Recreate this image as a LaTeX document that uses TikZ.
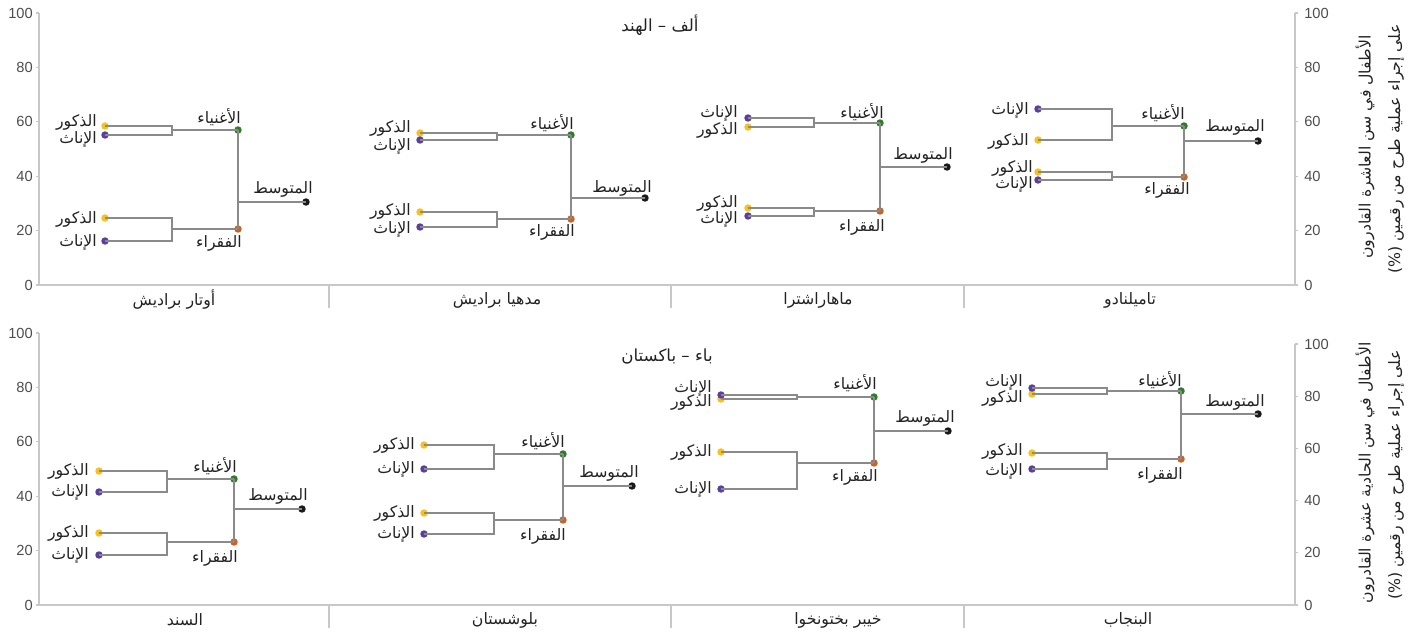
\documentclass[tikz,border=0pt]{standalone}
\usepackage{fontspec}
\setmainfont{Liberation Sans}
\newfontfamily\arabicfont[Script=Arabic]{DejaVu Sans}
\TeXXeTstate=1
\newcommand\artxt[1]{{\arabicfont\beginR #1\endR}}

\definecolor{maleyellow}{HTML}{F8C21A}
\definecolor{femalepurple}{HTML}{5B3F9C}
\definecolor{richgreen}{HTML}{2F7D2B}
\definecolor{poororange}{HTML}{CF6020}
\definecolor{avgblack}{HTML}{1A1A1A}
\definecolor{linkgray}{HTML}{8A8A8A}
\definecolor{axisgray}{HTML}{C8C8C8}
\definecolor{tickgray}{HTML}{4D4D4D}
\definecolor{textblack}{HTML}{222222}

\tikzset{
  dot/.style={circle, inner sep=0pt, minimum size=5.6pt},
  male/.style={dot, fill=maleyellow},
  female/.style={dot, fill=femalepurple},
  rich/.style={dot, fill=richgreen},
  poor/.style={dot, fill=poororange},
  avg/.style={dot, fill=avgblack},
  link/.style={draw=linkgray, line width=1.4pt},
  axisline/.style={draw=axisgray, line width=0.8pt},
  lbl/.style={font=\fontsize{11.8}{13}\selectfont, text=textblack, inner sep=0pt},
  ticknum/.style={font=\fontsize{11}{12}\selectfont, text=tickgray, inner sep=0pt},
}

\begin{document}
\begin{tikzpicture}[x=0.75pt, y=-0.75pt]
  \useasboundingbox (0,0) rectangle (1409,634);

  % axes, top panel
  \draw[axisline] (39,13) -- (39,285) -- (1295,285) -- (1295,13);
  \draw[axisline] (329,285) -- (329,308) (671,285) -- (671,308) (964,285) -- (964,308);
  \foreach \v in {0,20,...,100} {
    \draw[axisline] (36,{285-2.72*\v}) -- (39,{285-2.72*\v});
    \draw[axisline] (1295,{285-2.72*\v}) -- (1298,{285-2.72*\v});
    \node[ticknum, anchor=east] (la\v) at (33,{285-2.72*\v}) {\v};
    \node[ticknum, anchor=west] (ra\v) at (1304,{285-2.72*\v}) {\v};
  }
  % axes, bottom panel
  \draw[axisline] (39,333) -- (39,605) -- (1295,605) -- (1295,344);
  \draw[axisline] (329,605) -- (329,628) (671,605) -- (671,628) (964,605) -- (964,628);
  \foreach \v in {0,20,...,100} {
    \draw[axisline] (36,{605-2.72*\v}) -- (39,{605-2.72*\v});
    \draw[axisline] (1295,{605-2.61*\v}) -- (1298,{605-2.61*\v});
    \node[ticknum, anchor=east] (lb\v) at (33,{605-2.72*\v}) {\v};
    \node[ticknum, anchor=west] (rb\v) at (1304,{605-2.61*\v}) {\v};
  }

  % titles and axis texts
  \draw
    (660,25) node[lbl, font=\fontsize{12.5}{14}\selectfont] (titleA){\artxt{ألف – الهند}}
    (667,357) node[lbl, font=\fontsize{12.5}{14}\selectfont] (titleB){\artxt{باء – باكستان}}
    (174,300) node[lbl] (catUP){\artxt{أوتار براديش}}
    (497,300) node[lbl] (catMP){\artxt{مدهيا براديش}}
    (818,300) node[lbl] (catMH){\artxt{ماهاراشترا}}
    (1130,300) node[lbl] (catTN){\artxt{تاميلنادو}}
    (185,620) node[lbl] (catSD){\artxt{السند}}
    (505,620) node[lbl] (catBL){\artxt{بلوشستان}}
    (838,620) node[lbl] (catKP){\artxt{خيبر بختونخوا}}
    (1128,620) node[lbl] (catPB){\artxt{البنجاب}}
    (1365,147) node[lbl, rotate=90] (ytitleA1){\artxt{الأطفال في سن العاشرة القادرون}}
    (1396,149) node[lbl, rotate=90] (ytitleA2){\artxt{على إجراء عملية طرح من رقمين (\%)}}
    (1365,473) node[lbl, rotate=90] (ytitleB1){\artxt{الأطفال في سن الحادية عشرة القادرون}}
    (1396,475) node[lbl, rotate=90] (ytitleB2){\artxt{على إجراء عملية طرح من رقمين (\%)}};

  % Uttar Pradesh
  \draw
    (105,126) node[male] (up-m1){}
    (105,135) node[female] (up-f1){}
    (105,218) node[male] (up-m2){}
    (105,241) node[female] (up-f2){}
    (238,130) node[rich] (up-rich){}
    (238,229) node[poor] (up-poor){}
    (306,202) node[avg] (up-avg){}
    (97,122) node[lbl, anchor=east] (up-m1l){\artxt{الذكور}}
    (97,139) node[lbl, anchor=east] (up-f1l){\artxt{الإناث}}
    (97,219) node[lbl, anchor=east] (up-m2l){\artxt{الذكور}}
    (97,242) node[lbl, anchor=east] (up-f2l){\artxt{الإناث}}
    (219,117) node[lbl] (up-richl){\artxt{الأغنياء}}
    (219,243) node[lbl] (up-poorl){\artxt{الفقراء}}
    (283,189) node[lbl] (up-avgl){\artxt{المتوسط}};
  \coordinate (up-j1) at (172,130);
  \coordinate (up-j2) at (172,229);

  % Madhya Pradesh
  \draw
    (420,133) node[male] (mp-m1){}
    (420,140) node[female] (mp-f1){}
    (420,212) node[male] (mp-m2){}
    (420,227) node[female] (mp-f2){}
    (571,135) node[rich] (mp-rich){}
    (571,219) node[poor] (mp-poor){}
    (645,198) node[avg] (mp-avg){}
    (411,128) node[lbl, anchor=east] (mp-m1l){\artxt{الذكور}}
    (411,146) node[lbl, anchor=east] (mp-f1l){\artxt{الإناث}}
    (411,211) node[lbl, anchor=east] (mp-m2l){\artxt{الذكور}}
    (411,229) node[lbl, anchor=east] (mp-f2l){\artxt{الإناث}}
    (552,123) node[lbl] (mp-richl){\artxt{الأغنياء}}
    (552,232) node[lbl] (mp-poorl){\artxt{الفقراء}}
    (622,188) node[lbl] (mp-avgl){\artxt{المتوسط}};
  \coordinate (mp-j1) at (497,135);
  \coordinate (mp-j2) at (497,219);

  % Maharashtra
  \draw
    (748,127) node[male] (mh-m1){}
    (748,118) node[female] (mh-f1){}
    (748,208) node[male] (mh-m2){}
    (748,216) node[female] (mh-f2){}
    (880,123) node[rich] (mh-rich){}
    (880,211) node[poor] (mh-poor){}
    (947,167) node[avg] (mh-avg){}
    (738,130) node[lbl, anchor=east] (mh-m1l){\artxt{الذكور}}
    (738,113) node[lbl, anchor=east] (mh-f1l){\artxt{الإناث}}
    (738,203) node[lbl, anchor=east] (mh-m2l){\artxt{الذكور}}
    (738,219) node[lbl, anchor=east] (mh-f2l){\artxt{الإناث}}
    (862,112) node[lbl] (mh-richl){\artxt{الأغنياء}}
    (862,227) node[lbl] (mh-poorl){\artxt{الفقراء}}
    (923,155) node[lbl] (mh-avgl){\artxt{المتوسط}};
  \coordinate (mh-j1) at (814,123);
  \coordinate (mh-j2) at (814,211);

  % Tamil Nadu
  \draw
    (1038,140) node[male] (tn-m1){}
    (1038,109) node[female] (tn-f1){}
    (1038,172) node[male] (tn-m2){}
    (1038,180) node[female] (tn-f2){}
    (1184,126) node[rich] (tn-rich){}
    (1184,177) node[poor] (tn-poor){}
    (1258,141) node[avg] (tn-avg){}
    (1029,141) node[lbl, anchor=east] (tn-m1l){\artxt{الذكور}}
    (1029,110) node[lbl, anchor=east] (tn-f1l){\artxt{الإناث}}
    (1033,168) node[lbl, anchor=east] (tn-m2l){\artxt{الذكور}}
    (1033,184) node[lbl, anchor=east] (tn-f2l){\artxt{الإناث}}
    (1163,113) node[lbl] (tn-richl){\artxt{الأغنياء}}
    (1167,190) node[lbl] (tn-poorl){\artxt{الفقراء}}
    (1235,127) node[lbl] (tn-avgl){\artxt{المتوسط}};
  \coordinate (tn-j1) at (1112,126);
  \coordinate (tn-j2) at (1112,177);

  % Sindh
  \draw
    (99,471) node[male] (sd-m1){}
    (99,492) node[female] (sd-f1){}
    (99,533) node[male] (sd-m2){}
    (99,555) node[female] (sd-f2){}
    (234,479) node[rich] (sd-rich){}
    (234,542) node[poor] (sd-poor){}
    (302,509) node[avg] (sd-avg){}
    (89,471) node[lbl, anchor=east] (sd-m1l){\artxt{الذكور}}
    (89,492) node[lbl, anchor=east] (sd-f1l){\artxt{الإناث}}
    (89,533) node[lbl, anchor=east] (sd-m2l){\artxt{الذكور}}
    (89,555) node[lbl, anchor=east] (sd-f2l){\artxt{الإناث}}
    (215,466) node[lbl] (sd-richl){\artxt{الأغنياء}}
    (215,558) node[lbl] (sd-poorl){\artxt{الفقراء}}
    (278,496) node[lbl] (sd-avgl){\artxt{المتوسط}};
  \coordinate (sd-j1) at (167,479);
  \coordinate (sd-j2) at (167,542);

  % Balochistan
  \draw
    (424,445) node[male] (bl-m1){}
    (424,469) node[female] (bl-f1){}
    (424,513) node[male] (bl-m2){}
    (424,534) node[female] (bl-f2){}
    (563,454) node[rich] (bl-rich){}
    (563,520) node[poor] (bl-poor){}
    (632,486) node[avg] (bl-avg){}
    (415,445) node[lbl, anchor=east] (bl-m1l){\artxt{الذكور}}
    (415,469) node[lbl, anchor=east] (bl-f1l){\artxt{الإناث}}
    (415,513) node[lbl, anchor=east] (bl-m2l){\artxt{الذكور}}
    (415,534) node[lbl, anchor=east] (bl-f2l){\artxt{الإناث}}
    (543,441) node[lbl] (bl-richl){\artxt{الأغنياء}}
    (543,536) node[lbl] (bl-poorl){\artxt{الفقراء}}
    (609,473) node[lbl] (bl-avgl){\artxt{المتوسط}};
  \coordinate (bl-j1) at (494,454);
  \coordinate (bl-j2) at (494,520);

  % Khyber Pakhtunkhwa
  \draw
    (721,399) node[male] (kp-m1){}
    (721,395) node[female] (kp-f1){}
    (721,452) node[male] (kp-m2){}
    (721,489) node[female] (kp-f2){}
    (874,397) node[rich] (kp-rich){}
    (874,463) node[poor] (kp-poor){}
    (948,431) node[avg] (kp-avg){}
    (712,402) node[lbl, anchor=east] (kp-m1l){\artxt{الذكور}}
    (712,388) node[lbl, anchor=east] (kp-f1l){\artxt{الإناث}}
    (712,452) node[lbl, anchor=east] (kp-m2l){\artxt{الذكور}}
    (712,489) node[lbl, anchor=east] (kp-f2l){\artxt{الإناث}}
    (855,383) node[lbl] (kp-richl){\artxt{الأغنياء}}
    (855,477) node[lbl] (kp-poorl){\artxt{الفقراء}}
    (925,418) node[lbl] (kp-avgl){\artxt{المتوسط}};
  \coordinate (kp-j1) at (797,397);
  \coordinate (kp-j2) at (797,463);

  % Punjab
  \draw
    (1032,394) node[male] (pb-m1){}
    (1032,388) node[female] (pb-f1){}
    (1032,453) node[male] (pb-m2){}
    (1032,469) node[female] (pb-f2){}
    (1181,391) node[rich] (pb-rich){}
    (1181,459) node[poor] (pb-poor){}
    (1258,414) node[avg] (pb-avg){}
    (1023,398) node[lbl, anchor=east] (pb-m1l){\artxt{الذكور}}
    (1023,382) node[lbl, anchor=east] (pb-f1l){\artxt{الإناث}}
    (1023,451) node[lbl, anchor=east] (pb-m2l){\artxt{الذكور}}
    (1023,471) node[lbl, anchor=east] (pb-f2l){\artxt{الإناث}}
    (1160,380) node[lbl] (pb-richl){\artxt{الأغنياء}}
    (1160,475) node[lbl] (pb-poorl){\artxt{الفقراء}}
    (1235,402) node[lbl] (pb-avgl){\artxt{المتوسط}};
  \coordinate (pb-j1) at (1107,391);
  \coordinate (pb-j2) at (1107,459);

  \begin{scope}[on background layer/.try]
    \foreach \p in {up,mp,mh,tn,sd,bl,kp,pb} {
      \draw[link] (\p-m1.center) -| (\p-j1) |- (\p-f1.center);
      \draw[link] (\p-m2.center) -| (\p-j2) |- (\p-f2.center);
      \draw[link] (\p-j1) -- (\p-rich.center);
      \draw[link] (\p-j2) -- (\p-poor.center);
      \draw[link] (\p-rich.center) -- (\p-poor.center);
      \draw[link] (\p-rich |- \p-avg) -- (\p-avg.center);
    }
  \end{scope}
\end{tikzpicture}
\end{document}
